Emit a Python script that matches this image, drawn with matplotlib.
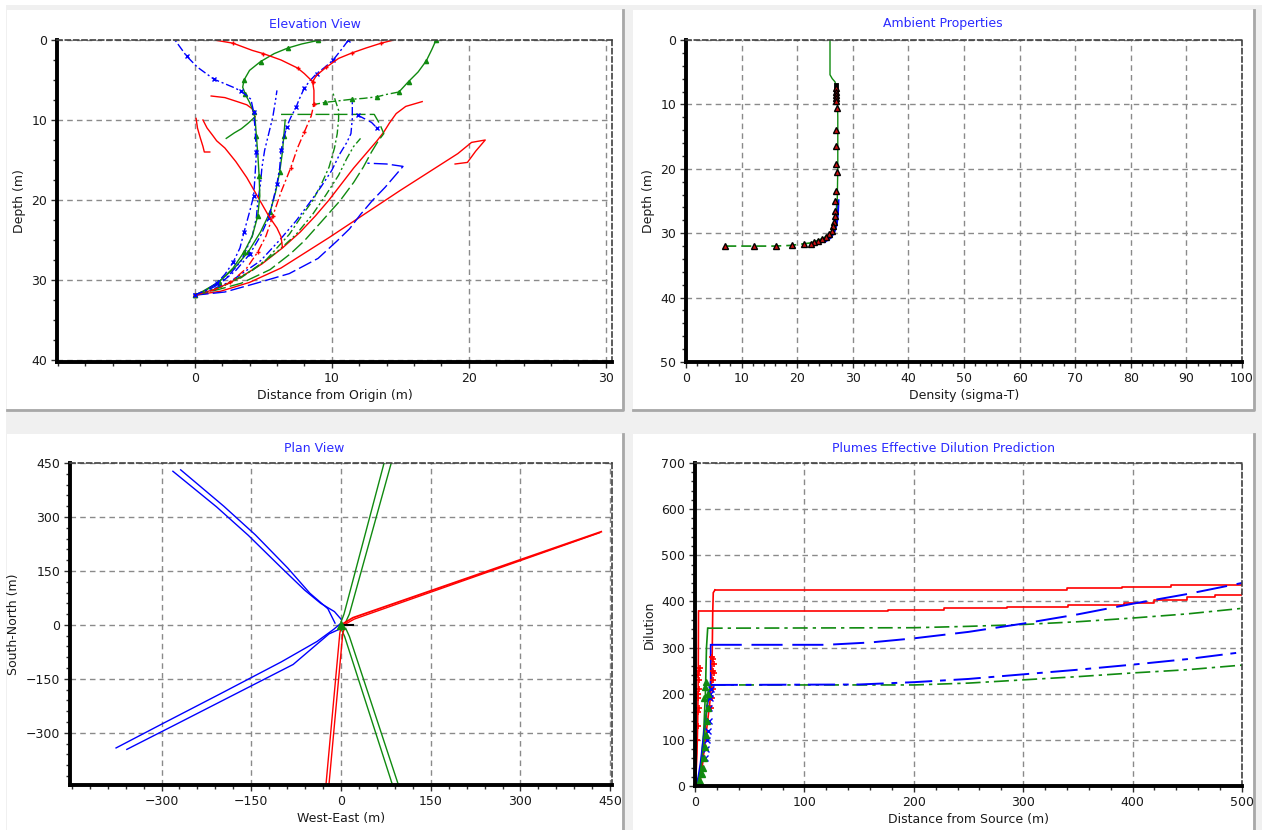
import matplotlib
matplotlib.use("Agg")
import matplotlib.pyplot as plt
from matplotlib.patches import Rectangle
from matplotlib.lines import Line2D
from matplotlib.ticker import MultipleLocator, FixedLocator

W, H = 1262, 830
FONT = "DejaVu Sans"
plt.rcParams['font.family'] = [FONT]

# ---------------- Elevation view (distance from origin, depth) ----------------
elev_a_x = [0, 0.8, 1.6, 2.2, 2.8, 3.3, 3.6, 4.0, 4.3, 4.4, 4.5, 4.4, 4.3, 4.1, 3.4, 2.8, 1.4, 0.2, -0.6, -1.4]
elev_a_d = [31.9, 31.3, 30.4, 29.3, 27.8, 26.0, 24.0, 21.5, 19.5, 17.0, 14.0, 11.0, 9.0, 7.4, 6.4, 5.9, 4.9, 3.4, 2.0, 0.1]
elev_b_x = [0, 1.3, 2.6, 3.8, 4.6, 5.2, 5.7, 6.3, 7.0, 7.5, 8.0, 8.5, 8.7]
elev_b_d = [31.9, 31.3, 30.3, 28.5, 26.5, 24.5, 22.0, 19.0, 16.0, 13.5, 11.5, 9.5, 8.0]
elev_c_x = [8.7, 8.7, 8.6, 8.0, 7.5, 6.3, 5.0, 4.2, 2.8, 1.6]
elev_c_d = [8.0, 6.3, 5.2, 4.2, 3.5, 2.5, 1.7, 1.3, 0.4, 0.05]
elev_d_x = [8.6, 8.9, 9.6, 10.5, 11.5, 12.5, 13.6, 14.4]
elev_d_d = [5.2, 4.4, 3.4, 2.3, 1.6, 1.0, 0.4, 0.05]
elev_e_x = [0, 0.8, 1.8, 2.8, 3.6, 4.2, 4.6, 4.75, 4.7, 4.6, 4.5, 4.4, 4.3, 4.0, 3.7, 3.5, 3.6, 4.0, 4.8, 5.8, 6.8, 7.8, 9.0]
elev_e_d = [31.9, 31.3, 30.2, 28.5, 26.5, 24.5, 22.0, 19.5, 17.0, 14.2, 12.0, 9.8, 9.0, 7.8, 6.8, 5.9, 5.0, 3.8, 2.7, 1.7, 1.0, 0.5, 0.05]
elev_f_x = [17.6, 17.3, 16.9, 16.3, 15.6, 14.9]
elev_f_d = [0.05, 1.2, 2.6, 4.0, 5.2, 6.5]
elev_g_x = [14.9, 14.0, 13.3, 12.3, 11.5, 10.5, 9.5, 8.6]
elev_g_d = [6.5, 6.8, 7.1, 7.3, 7.4, 7.6, 7.8, 8.1]
elev_h_x = [1.2, 2.2, 3.1, 3.8, 4.2, 4.4]
elev_h_d = [7.0, 7.2, 7.7, 8.1, 8.6, 9.6]
elev_i_x = [2.3, 2.9, 3.4, 3.9, 4.4]
elev_i_d = [12.3, 11.6, 11.1, 10.4, 9.6]
elev_j_x = [0.1, 0.2, 0.4, 0.6, 0.7, 1.1]
elev_j_d = [9.8, 11.0, 12.2, 13.3, 14.0, 14.0]
elev_k_x = [0.6, 0.9, 1.3, 1.6, 2.2, 3.0, 3.8, 4.4, 4.9, 5.4, 6.0, 6.3, 6.4]
elev_k_d = [10.0, 11.0, 11.9, 12.6, 13.5, 15.2, 17.2, 19.0, 20.5, 22.0, 23.5, 24.6, 25.9]
elev_l_x = [0, 1.6, 3.2, 4.9, 6.4, 7.7, 8.8, 9.8, 10.7, 11.6, 12.5, 13.3, 13.8, 14.2, 14.7, 15.4, 16.6]
elev_l_d = [31.9, 31.1, 29.8, 28.0, 26.0, 24.0, 22.0, 20.0, 18.0, 16.0, 14.2, 12.6, 11.5, 10.4, 9.2, 8.3, 7.7]
elev_m_x = [0, 1.9, 4.0, 6.3, 9.8, 15.0, 19.2, 20.2, 21.2, 20.5, 19.9, 19.0]
elev_m_d = [31.9, 31.4, 30.3, 28.5, 24.7, 18.8, 14.2, 12.8, 12.5, 13.9, 15.3, 15.5]
elev_n_x = [0, 2.2, 4.5, 6.9, 9.0, 10.4, 11.3, 12.1, 13.0, 13.9, 14.6, 15.2, 14.0, 12.6]
elev_n_d = [31.9, 31.5, 30.4, 29.2, 27.3, 25.1, 23.6, 21.8, 20.0, 18.4, 17.0, 15.8, 15.5, 15.4]
elev_o_x = [0, 1.7, 3.4, 5.5, 7.0, 8.0, 9.2, 10.6, 11.6, 12.3, 12.9, 13.4, 13.8, 13.5, 13.1, 11.0, 8.5, 6.3]
elev_o_d = [31.9, 31.2, 30.4, 28.7, 26.7, 25.1, 22.8, 20.1, 17.8, 15.9, 14.0, 12.6, 11.7, 10.5, 9.3, 9.3, 9.3, 9.3]
elev_p_x = [0, 1.5, 3.4, 5.2, 6.9, 7.8, 8.6, 9.3, 9.8, 10.2, 10.4, 10.5, 10.5, 10.1]
elev_p_d = [31.9, 31.2, 29.7, 27.5, 24.3, 22.0, 20.1, 17.8, 15.9, 13.5, 11.7, 9.8, 8.8, 6.7]
elev_q_x = [0, 1.0, 2.6, 4.8, 6.2, 7.4, 8.4, 9.2, 10.0, 10.6, 11.1, 11.4, 11.5, 11.5]
elev_q_d = [31.9, 31.4, 30.2, 27.6, 25.0, 22.6, 20.3, 18.4, 16.3, 14.2, 12.8, 11.7, 9.8, 7.5]
elev_r_x = [0, 0.8, 1.8, 3.0, 4.0, 4.8, 5.4, 5.7, 6.0, 6.2, 6.3, 6.5, 6.7, 7.0, 7.4, 7.6, 8.0, 8.4, 8.9, 9.5, 10.1, 10.7, 11.2]
elev_r_d = [31.9, 31.4, 30.5, 28.8, 26.8, 24.5, 22.2, 20.2, 18.0, 16.0, 13.8, 12.3, 10.9, 9.7, 8.4, 7.5, 6.0, 5.1, 4.2, 3.4, 2.5, 1.2, 0.05]
elev_s_x = [0, 1.2, 2.4, 3.4, 4.2, 4.5, 4.6, 4.8, 4.9, 5.1, 5.4, 5.7, 5.9, 6.0]
elev_s_d = [31.9, 31.0, 29.6, 27.6, 24.5, 22.2, 20.2, 18.0, 16.0, 13.8, 11.7, 9.6, 7.5, 6.3]
elev_t_x = [0, 0.6, 1.7, 2.9, 3.9, 4.8, 5.5, 5.9, 6.2, 6.4, 6.5, 6.6]
elev_t_d = [31.9, 31.4, 30.3, 28.5, 26.5, 24.0, 21.5, 19.0, 16.5, 14.0, 12.0, 10.0]
elev_u_x = [0, 2.0, 4.2, 6.0, 7.4, 8.6, 9.6, 10.5, 11.1, 11.6, 12.1]
elev_u_d = [31.9, 30.8, 28.8, 26.5, 24.3, 21.8, 19.3, 16.9, 14.8, 13.3, 12.3]
elev_v_x = [11.9, 12.9, 13.3]
elev_v_d = [9.4, 10.3, 11.0]

# ---------------- Ambient properties (density, depth) ----------------
amb_solid_x = [25.9, 25.9, 26.3, 26.8, 27.2, 27.3, 27.3, 27.2, 27.0, 26.8, 26.1, 24.6, 22.5]
amb_solid_d = [0, 5.4, 6.0, 6.5, 8.0, 12.0, 20.0, 25.0, 27.0, 28.5, 30.0, 30.8, 31.5]
amb_dash_x = [22.5, 18.8, 15.9, 7.2]
amb_dash_d = [31.5, 31.9, 32.0, 32.0]
amb_blue_x = [27.3, 27.2, 27.0, 26.6, 26.0, 25.0]
amb_blue_d = [25.0, 27.0, 28.5, 29.7, 30.6, 31.2]
amb_black_x = [27.0, 27.0]
amb_black_d = [7.0, 9.6]
amb_mark_x = [27.0, 27.0, 27.0, 27.0, 27.0, 27.2, 27.0, 27.0, 27.0, 27.1, 27.0, 26.8, 26.8, 26.8, 26.6, 26.4,
              26.2, 25.8, 25.2, 24.5, 23.8, 23.0, 22.5, 21.2, 19.0, 16.1, 12.3, 7.0]
amb_mark_d = [7.5, 8.0, 8.5, 9.0, 9.4, 10.6, 13.9, 16.4, 19.2, 20.5, 23.4, 25.0, 26.5, 27.4, 28.2, 28.9,
              29.6, 30.1, 30.6, 30.9, 31.2, 31.4, 31.6, 31.7, 31.8, 32.0, 32.0, 32.0]

# ---------------- Plan view (west-east, south-north) ----------------
plan_nw1_x = [0, -11, -34, -61, -101, -155, -208, -281]
plan_nw1_y = [16, 37, 60, 97, 161, 249, 328, 427]
plan_nw2_x = [-10, -22, -52, -89, -143, -196, -268]
plan_nw2_y = [5, 45, 88, 158, 250, 330, 431]
plan_sw1_x = [-2, -12, -40, -100, -200, -300, -376]
plan_sw1_y = [2, -12, -46, -103, -190, -276, -342]
plan_sw2_x = [0, -20, -80, -180, -280, -358]
plan_sw2_y = [-10, -25, -110, -195, -280, -346]
plan_n1_x = [0, 5, 72]
plan_n1_y = [8, 30, 450]
plan_n2_x = [8, 14, 84]
plan_n2_y = [8, 30, 450]
plan_s1_x = [0, 6, 89]
plan_s1_y = [-10, -32, -460]
plan_s2_x = [8, 14, 99]
plan_s2_y = [-10, -32, -460]
plan_e1_x = [4, 20, 435]
plan_e1_y = [4, 20, 259]
plan_e2_x = [6, 22, 432]
plan_e2_y = [1, 16, 256]
plan_r1_x = [0, -2, -26]
plan_r1_y = [-8, -23, -460]
plan_r2_x = [6, 3, -21]
plan_r2_y = [-8, -23, -460]
plan_src_x = [0, 20]
plan_src_y = [0, 0]

# ---------------- Dilution vs distance from source ----------------
dil_red1_near_x = [0, 1.0, 1.8, 2.4, 2.8, 3.0, 3.2]
dil_red1_near_y = [0, 30, 70, 130, 200, 260, 379]
dil_red1_far_x = [3.2, 176, 228, 285, 341, 392, 420, 450, 475, 500]
dil_red1_far_y = [379, 381.5, 385, 389, 392.5, 397.5, 403, 410, 414, 418]
dil_red2_near_x = [4, 6, 8, 10, 12, 14, 15.3, 15.8, 16.2, 16.7, 18.3]
dil_red2_near_y = [0, 30, 70, 110, 150, 190, 230, 300, 376, 419, 425]
dil_red2_far_x = [18.3, 340, 390, 435, 500]
dil_red2_far_y = [425, 428.5, 432, 436, 437]
dil_grn1_near_x = [2, 4, 6, 8, 9.5, 10.5, 11.6]
dil_grn1_near_y = [0, 20, 60, 120, 200, 300, 342]
dil_grn1_far_x = [11.6, 200, 250, 300, 350, 400, 450, 500]
dil_grn1_far_y = [342, 343, 346, 350, 356, 364, 373, 385]
dil_blu1_near_x = [1, 3, 5, 7, 9, 11, 13, 14.3, 14.3]
dil_blu1_near_y = [0, 20, 50, 90, 130, 170, 200, 230, 306]
dil_blu1_far_x = [14.3, 120, 160, 200, 250, 300, 350, 400, 450, 500]
dil_blu1_far_y = [306, 306, 311, 320, 334, 352, 372, 395, 416, 440]
dil_grn2_near_x = [2, 5, 8, 10, 12, 14.3]
dil_grn2_near_y = [0, 30, 90, 150, 200, 219]
dil_grn2_far_x = [14.3, 200, 250, 300, 350, 400, 450, 500]
dil_grn2_far_y = [219, 219, 223, 230, 237, 245, 252, 262]
dil_blu2_far_x = [14.3, 150, 200, 250, 300, 350, 400, 450, 500]
dil_blu2_far_y = [219, 220, 225, 232, 242, 252, 263, 275, 290]
dil_redmk_x = [2.2, 2.5, 2.8, 3.0, 3.3, 3.6, 3.9, 4.2, 2.6, 3.1, 3.5, 15, 15.5, 16, 16.5, 16.8, 17, 15.8, 16.2, 17.4]
dil_redmk_y = [100, 130, 160, 190, 210, 230, 250, 255, 240, 200, 170, 170, 190, 210, 230, 250, 265, 280, 275, 245]
dil_blumk_x = [12, 12.5, 13, 13.5, 14, 14.5, 9, 10, 11]
dil_blumk_y = [120, 140, 170, 190, 200, 210, 60, 80, 100]
dil_grnmk_x = [5, 6, 7, 8, 9, 10, 11, 12, 11.5, 10.5, 9.5, 8.5]
dil_grnmk_y = [10, 25, 40, 60, 85, 110, 140, 170, 200, 225, 215, 190]

RED, GRN, BLU = '#ff0000', '#108a10', '#0000ff'
DASHDOT = (0, (6, 2, 1.5, 2))
DASHDOTDOT = (0, (6, 2, 1.5, 2, 1.5, 2))
DASH = (0, (6, 3))
LONGDASH = (0, (10, 3))

fig = plt.figure(figsize=(W / 100, H / 100), dpi=100)
fig.patch.set_facecolor('white')


def fig_rect(x0, y0, x1, y1, color, z):
    fig.add_artist(Rectangle((x0 / W, 1 - y1 / H), (x1 - x0) / W, (y1 - y0) / H,
                             transform=fig.transFigure, facecolor=color, edgecolor='none', zorder=z))


def fig_line(xs, ys, color, lw, z):
    fig.add_artist(Line2D([x / W for x in xs], [1 - y / H for y in ys], color=color, lw=lw,
                          transform=fig.transFigure, zorder=z))


PANELS = [(7, 10, 622, 409), (633, 10, 1253, 409), (7, 434, 622, 830), (633, 434, 1253, 830)]
fig_rect(6, 5, W, H, '#f0f0f0', -3)
for (x0, y0, x1, y1) in PANELS:
    fig_rect(x0, y0, x1, y1, 'white', -2)
    fig_line([x1 + 1, x1 + 1, x0], [y0, y1 + 1, y1 + 1], '#a8a8a8', 2, -1)


def mkax(l, t, r, b):
    ax = fig.add_axes([l / W, 1 - b / H, (r - l) / W, (b - t) / H])
    ax.set_facecolor('white')
    return ax


def style(ax, panel, title, xlabel, ylabel, xmin, ymin):
    for s in ['top', 'right']:
        ax.spines[s].set_linestyle((0, (3, 2)))
        ax.spines[s].set_color('#404040')
        ax.spines[s].set_linewidth(1.2)
    for s in ['left', 'bottom']:
        ax.spines[s].set_color('black')
        ax.spines[s].set_linewidth(2.8)
    ax.grid(True, which='major', linestyle=(0, (4, 3)), color='#8a8a8a', linewidth=1.0)
    ax.xaxis.set_minor_locator(MultipleLocator(xmin))
    ax.yaxis.set_minor_locator(MultipleLocator(ymin))
    ax.tick_params(which='both', direction='out', color='#303030', width=1, labelsize=9,
                   labelcolor='#1a1a1a', top=False, right=False, pad=3)
    ax.tick_params(which='major', length=4)
    ax.tick_params(which='minor', length=3)
    x0, y0, x1, y1 = panel
    fig.text((x0 + x1) / 2 / W, 1 - (y0 + 14) / H, title, color='#2b2bff', fontsize=9,
             ha='center', va='center')
    ax.set_xlabel(xlabel, fontsize=9, color='#1a1a1a', labelpad=3)
    ax.set_ylabel(ylabel, fontsize=9, color='#1a1a1a', labelpad=4)
    ax.set_axisbelow(True)


# ---- Elevation view ----
ax1 = mkax(57, 40, 612, 362)
elev_specs = [
    (elev_m_x, elev_m_d, RED, '-', None),
    (elev_l_x, elev_l_d, RED, '-', None),
    (elev_n_x, elev_n_d, BLU, LONGDASH, None),
    (elev_o_x, elev_o_d, GRN, LONGDASH, None),
    (elev_p_x, elev_p_d, GRN, DASHDOT, None),
    (elev_q_x, elev_q_d, BLU, DASHDOTDOT, None),
    (elev_u_x, elev_u_d, GRN, DASHDOTDOT, None),
    (elev_t_x, elev_t_d, GRN, '-', '^'),
    (elev_s_x, elev_s_d, BLU, DASHDOTDOT, None),
    (elev_r_x, elev_r_d, BLU, DASHDOT, 'x'),
    (elev_k_x, elev_k_d, RED, '-', None),
    (elev_j_x, elev_j_d, RED, '-', None),
    (elev_i_x, elev_i_d, GRN, '-', None),
    (elev_h_x, elev_h_d, RED, '-', None),
    (elev_e_x, elev_e_d, GRN, '-', '^'),
    (elev_f_x, elev_f_d, GRN, '-', '^'),
    (elev_g_x, elev_g_d, GRN, DASHDOT, '^'),
    (elev_b_x, elev_b_d, RED, DASHDOT, '+'),
    (elev_c_x, elev_c_d, RED, '-', '+'),
    (elev_d_x, elev_d_d, RED, '-', '+'),
    (elev_a_x, elev_a_d, BLU, DASHDOT, 'x'),
    (elev_v_x, elev_v_d, BLU, DASH, 'x'),
]
for xs, ds, c, ls, mk in elev_specs:
    ax1.plot(xs, ds, color=c, linestyle=ls, linewidth=1.0, marker=mk, markersize=3,
             markeredgewidth=1.0, markevery=2 if mk else None)
ax1.set_xlim(-10.05, 30.45)
ax1.set_ylim(40.25, 0)
ax1.xaxis.set_major_locator(FixedLocator([0, 10, 20, 30]))
ax1.yaxis.set_major_locator(FixedLocator([0, 10, 20, 30, 40]))
style(ax1, PANELS[0], 'Elevation View', 'Distance from Origin (m)', 'Depth (m)', 2, 2.5)

# ---- Ambient properties ----
ax2 = mkax(686, 40, 1242, 362)
ax2.plot(amb_blue_x, amb_blue_d, color=BLU, lw=2.5)
ax2.plot(amb_solid_x, amb_solid_d, color=GRN, lw=1.0)
ax2.plot(amb_dash_x, amb_dash_d, color=GRN, lw=1.2, linestyle=(0, (6, 3)))
ax2.plot(amb_black_x, amb_black_d, color='black', lw=3.5)
ax2.plot(amb_mark_x, amb_mark_d, linestyle='none', marker='^', markersize=4.5,
         markerfacecolor='#d01010', markeredgecolor='black', markeredgewidth=1.0)
ax2.set_xlim(0, 100)
ax2.set_ylim(50, 0)
ax2.xaxis.set_major_locator(MultipleLocator(10))
ax2.yaxis.set_major_locator(MultipleLocator(10))
style(ax2, PANELS[1], 'Ambient Properties', 'Density (sigma-T)', 'Depth (m)', 2, 2)

# ---- Plan view ----
ax3 = mkax(70, 463, 612, 785)
for xs, ys, c in [(plan_nw1_x, plan_nw1_y, BLU), (plan_nw2_x, plan_nw2_y, BLU),
                  (plan_sw1_x, plan_sw1_y, BLU), (plan_sw2_x, plan_sw2_y, BLU),
                  (plan_n1_x, plan_n1_y, GRN), (plan_n2_x, plan_n2_y, GRN),
                  (plan_s1_x, plan_s1_y, GRN), (plan_s2_x, plan_s2_y, GRN),
                  (plan_r1_x, plan_r1_y, RED), (plan_r2_x, plan_r2_y, RED)]:
    ax3.plot(xs, ys, color=c, lw=1.0)
ax3.plot(plan_e1_x, plan_e1_y, color=RED, lw=1.3)
ax3.plot(plan_e2_x, plan_e2_y, color=RED, lw=1.0)
ax3.plot(plan_src_x, plan_src_y, color='black', lw=1.5)
ax3.plot(plan_src_x[:1], plan_src_y[:1], linestyle='none', marker='^', markersize=6, color=GRN)
ax3.set_xlim(-453, 453)
ax3.set_ylim(-445, 450)
ax3.xaxis.set_major_locator(FixedLocator([-300, -150, 0, 150, 300, 450]))
ax3.yaxis.set_major_locator(FixedLocator([-300, -150, 0, 150, 300, 450]))
style(ax3, PANELS[2], 'Plan View', 'West-East (m)', 'South-North (m)', 30, 30)

# ---- Dilution ----
ax4 = mkax(695, 463, 1242, 786)
ax4.plot(dil_red1_near_x, dil_red1_near_y, color=RED, lw=1.2)
ax4.plot(dil_red1_far_x, dil_red1_far_y, color=RED, lw=1.2, drawstyle='steps-post')
ax4.plot(dil_red2_near_x, dil_red2_near_y, color=RED, lw=1.2)
ax4.plot(dil_red2_far_x, dil_red2_far_y, color=RED, lw=1.2, drawstyle='steps-post')
ax4.plot(dil_grn1_near_x, dil_grn1_near_y, color=GRN, lw=1.2)
ax4.plot(dil_grn1_far_x, dil_grn1_far_y, color=GRN, lw=1.2, linestyle=(0, (9, 3, 2, 3)))
ax4.plot(dil_blu1_near_x, dil_blu1_near_y, color=BLU, lw=1.2)
ax4.plot(dil_blu1_far_x, dil_blu1_far_y, color=BLU, lw=1.4, linestyle=(0, (16, 5)))
ax4.plot(dil_grn2_near_x, dil_grn2_near_y, color=GRN, lw=1.2)
ax4.plot(dil_grn2_far_x, dil_grn2_far_y, color=GRN, lw=1.2, linestyle=(0, (9, 3, 2, 3)))
ax4.plot(dil_blu2_far_x, dil_blu2_far_y, color=BLU, lw=1.4, linestyle=(0, (14, 4, 3, 4)))
ax4.plot(dil_redmk_x, dil_redmk_y, linestyle='none', marker='+', markersize=5, color=RED, mew=1.2)
ax4.plot(dil_blumk_x, dil_blumk_y, linestyle='none', marker='x', markersize=4, color=BLU, mew=1.0)
ax4.plot(dil_grnmk_x, dil_grnmk_y, linestyle='none', marker='^', markersize=4, color=GRN)
ax4.set_xlim(0, 500)
ax4.set_ylim(0, 700)
ax4.xaxis.set_major_locator(MultipleLocator(100))
ax4.yaxis.set_major_locator(MultipleLocator(100))
style(ax4, PANELS[3], 'Plumes Effective Dilution Prediction', 'Distance from Source (m)', 'Dilution', 20, 20)

fig.savefig('out.png', dpi=100)
